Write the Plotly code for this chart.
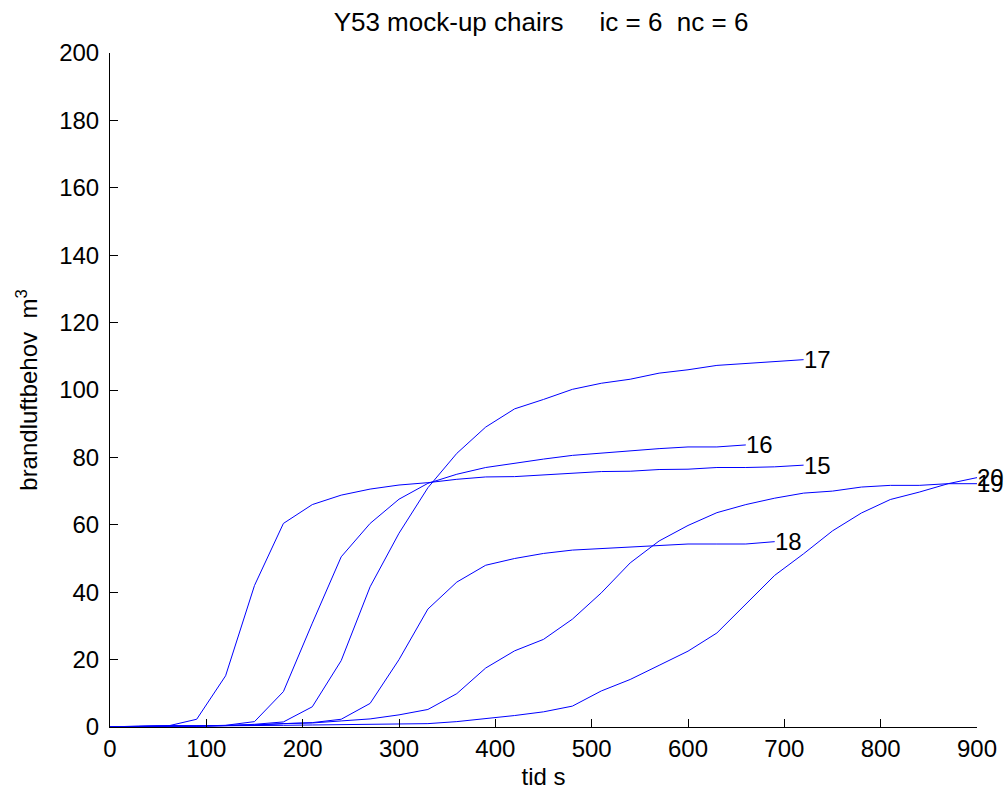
import plotly.graph_objects as go

step = 30
labels = ["15", "16", "17", "18", "19", "20"]

c15 = [0, 0.3, 0.3, 2.3, 15.2, 42, 60.4, 66, 68.8, 70.6, 71.8, 72.5, 73.5, 74.2, 74.3,
       74.8, 75.3, 75.8, 75.9, 76.4, 76.5, 77, 77, 77.2, 77.7]
c16 = [0, 0.2, 0.3, 0.3, 0.5, 1.6, 10.5, 30.8, 50.5, 60.4, 67.6, 72.3, 75, 77, 78.3,
       79.5, 80.6, 81.3, 81.9, 82.6, 83.1, 83.1, 83.7]
c17 = [0, 0.2, 0.3, 0.3, 0.4, 0.8, 1.5, 6, 19.7, 41.6, 57.5, 71, 81.2, 89, 94.4,
       97.2, 100.2, 102, 103.2, 105, 106, 107.3, 107.8, 108.4, 109]
c18 = [0, 0.2, 0.3, 0.3, 0.4, 0.6, 1.0, 1.3, 2.3, 7, 20, 35, 43, 48, 50,
       51.5, 52.5, 53, 53.5, 54, 54.3, 54.3, 54.3, 55]
c19 = [0, 0.2, 0.3, 0.3, 0.4, 0.6, 1.0, 1.2, 1.8, 2.4, 3.6, 5.2, 9.9, 17.5, 22.6,
       26, 32, 39.8, 48.7, 55.2, 59.8, 63.6, 66, 67.9, 69.4, 70, 71.2, 71.7, 71.7, 72.2, 72.2]
c20 = [0, 0.2, 0.3, 0.3, 0.3, 0.4, 0.5, 0.6, 0.7, 0.8, 0.9, 1.0, 1.6, 2.4, 3.4,
       4.5, 6.2, 10.7, 14.1, 18.3, 22.5, 27.9, 36.3, 45, 51.4, 58.2, 63.5, 67.5, 69.7, 72.2, 74]

series = [c15, c16, c17, c18, c19, c20]

xticks = [0, 100, 200, 300, 400, 500, 600, 700, 800, 900]
yticks = [0, 20, 40, 60, 80, 100, 120, 140, 160, 180, 200]

FONT = "Liberation Sans, Arial, sans-serif"
NB = "\u00a0"
FS = 24

fig = go.Figure()
annotations = []
for lab, ys in zip(labels, series):
    xs = [i * step for i in range(len(ys))]
    fig.add_trace(go.Scatter(x=xs, y=ys, mode="lines",
                             line=dict(color="#0000ff", width=1),
                             showlegend=False, hoverinfo="skip"))
    annotations.append(dict(x=xs[-1], y=ys[-1], xref="x", yref="y", text=lab,
                            showarrow=False, xanchor="left", yanchor="middle",
                            xshift=-2, font=dict(size=FS, color="black", family=FONT)))

title_text = "Y53 mock-up chairs" + NB * 5 + "ic = 6" + NB * 2 + "nc = 6"

fig.update_layout(
    width=1004, height=796,
    margin=dict(l=110, r=27, t=53, b=69, autoexpand=False),
    paper_bgcolor="white", plot_bgcolor="white",
    font=dict(family=FONT, size=FS, color="black"),
    title=dict(text=title_text, x=541 / 1004, xanchor="center",
               y=1 - 22 / 796, yanchor="middle", font=dict(size=26, family=FONT)),
    xaxis=dict(range=[0, 900], tickvals=xticks, ticks="inside", ticklen=8,
               tickcolor="black", showline=True, linecolor="black", linewidth=1,
               showgrid=False, zeroline=False, tickfont=dict(size=FS),
               title=dict(text="tid s", standoff=7, font=dict(size=FS))),
    yaxis=dict(range=[0, 200], tickvals=yticks, ticks="inside", ticklen=8,
               tickcolor="black", showline=True, linecolor="black", linewidth=1,
               showgrid=False, zeroline=False, tickfont=dict(size=FS),
               ticklabelstandoff=5,
               title=dict(text="brandluftbehov" + NB * 2 + "m<sup>3</sup>", standoff=14,
                          font=dict(size=FS))),
    annotations=annotations,
)

post = ("document.documentElement.style.margin='0';"
        "document.body.style.margin='0';"
        "document.documentElement.style.overflow='hidden';"
        "document.body.style.overflow='hidden';")

fig.write_html("out.html", post_script=post, config={"displayModeBar": False})
